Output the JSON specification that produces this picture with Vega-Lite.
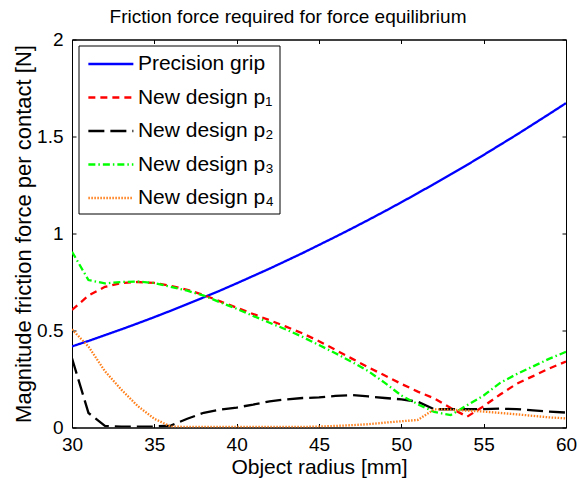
{
  "$schema": "https://vega.github.io/schema/vega-lite/v6.json",
  "width": 494,
  "height": 388,
  "autosize": {"type": "none"},
  "padding": {"left": 72, "top": 39.5, "right": 13, "bottom": 54.5},
  "background": "white",
  "title": {
    "text": "Friction force required for force equilibrium",
    "fontSize": 19,
    "font": "Liberation Sans",
    "fontWeight": "normal",
    "color": "black",
    "baseline": "alphabetic",
    "offset": 17,
    "dx": -31,
    "dy": 28
  },
  "data": {
    "values": [
      {"r": 30, "Precision grip": 0.418, "New design p₁": 0.606, "New design p₂": 0.357, "New design p₃": 0.906, "New design p₄": 0.506},
      {"r": 31, "Precision grip": 0.446, "New design p₁": 0.68, "New design p₂": 0.075, "New design p₃": 0.76, "New design p₄": 0.417},
      {"r": 32, "Precision grip": 0.476, "New design p₁": 0.725, "New design p₂": 0.008, "New design p₃": 0.743, "New design p₄": 0.29},
      {"r": 33, "Precision grip": 0.506, "New design p₁": 0.745, "New design p₂": 0.005, "New design p₃": 0.75, "New design p₄": 0.195},
      {"r": 34, "Precision grip": 0.537, "New design p₁": 0.75, "New design p₂": 0.005, "New design p₃": 0.752, "New design p₄": 0.11},
      {"r": 35, "Precision grip": 0.569, "New design p₁": 0.745, "New design p₂": 0.005, "New design p₃": 0.745, "New design p₄": 0.045},
      {"r": 36, "Precision grip": 0.602, "New design p₁": 0.73, "New design p₂": 0.01, "New design p₃": 0.725, "New design p₄": 0.005},
      {"r": 37, "Precision grip": 0.636, "New design p₁": 0.71, "New design p₂": 0.045, "New design p₃": 0.705, "New design p₄": 0.003},
      {"r": 38, "Precision grip": 0.671, "New design p₁": 0.683, "New design p₂": 0.076, "New design p₃": 0.68, "New design p₄": 0.003},
      {"r": 39, "Precision grip": 0.706, "New design p₁": 0.65, "New design p₂": 0.092, "New design p₃": 0.645, "New design p₄": 0.003},
      {"r": 40, "Precision grip": 0.743, "New design p₁": 0.618, "New design p₂": 0.103, "New design p₃": 0.612, "New design p₄": 0.003},
      {"r": 41, "Precision grip": 0.781, "New design p₁": 0.585, "New design p₂": 0.118, "New design p₃": 0.575, "New design p₄": 0.003},
      {"r": 42, "Precision grip": 0.819, "New design p₁": 0.553, "New design p₂": 0.135, "New design p₃": 0.54, "New design p₄": 0.003},
      {"r": 43, "Precision grip": 0.859, "New design p₁": 0.52, "New design p₂": 0.145, "New design p₃": 0.505, "New design p₄": 0.003},
      {"r": 44, "Precision grip": 0.899, "New design p₁": 0.485, "New design p₂": 0.152, "New design p₃": 0.467, "New design p₄": 0.003},
      {"r": 45, "Precision grip": 0.941, "New design p₁": 0.445, "New design p₂": 0.155, "New design p₃": 0.425, "New design p₄": 0.005},
      {"r": 46, "Precision grip": 0.983, "New design p₁": 0.4, "New design p₂": 0.163, "New design p₃": 0.383, "New design p₄": 0.008},
      {"r": 47, "Precision grip": 1.026, "New design p₁": 0.355, "New design p₂": 0.167, "New design p₃": 0.338, "New design p₄": 0.012},
      {"r": 48, "Precision grip": 1.07, "New design p₁": 0.31, "New design p₂": 0.16, "New design p₃": 0.29, "New design p₄": 0.017},
      {"r": 49, "Precision grip": 1.115, "New design p₁": 0.268, "New design p₂": 0.152, "New design p₃": 0.23, "New design p₄": 0.025},
      {"r": 50, "Precision grip": 1.161, "New design p₁": 0.225, "New design p₂": 0.145, "New design p₃": 0.165, "New design p₄": 0.032},
      {"r": 51, "Precision grip": 1.208, "New design p₁": 0.185, "New design p₂": 0.133, "New design p₃": 0.12, "New design p₄": 0.039},
      {"r": 52, "Precision grip": 1.256, "New design p₁": 0.15, "New design p₂": 0.094, "New design p₃": 0.08, "New design p₄": 0.094},
      {"r": 53, "Precision grip": 1.305, "New design p₁": 0.1, "New design p₂": 0.094, "New design p₃": 0.064, "New design p₄": 0.092},
      {"r": 54, "Precision grip": 1.354, "New design p₁": 0.056, "New design p₂": 0.094, "New design p₃": 0.115, "New design p₄": 0.087},
      {"r": 55, "Precision grip": 1.405, "New design p₁": 0.11, "New design p₂": 0.095, "New design p₃": 0.165, "New design p₄": 0.082},
      {"r": 56, "Precision grip": 1.457, "New design p₁": 0.17, "New design p₂": 0.097, "New design p₃": 0.23, "New design p₄": 0.075},
      {"r": 57, "Precision grip": 1.509, "New design p₁": 0.225, "New design p₂": 0.095, "New design p₃": 0.275, "New design p₄": 0.068},
      {"r": 58, "Precision grip": 1.563, "New design p₁": 0.265, "New design p₂": 0.088, "New design p₃": 0.315, "New design p₄": 0.06},
      {"r": 59, "Precision grip": 1.617, "New design p₁": 0.305, "New design p₂": 0.082, "New design p₃": 0.355, "New design p₄": 0.052},
      {"r": 60, "Precision grip": 1.672, "New design p₁": 0.34, "New design p₂": 0.077, "New design p₃": 0.39, "New design p₄": 0.047}
    ]
  },
  "transform": [
    {"fold": ["Precision grip", "New design p₁", "New design p₂", "New design p₃", "New design p₄"], "as": ["series", "f"]}
  ],
  "layer": [
    {
      "mark": {"type": "line", "strokeWidth": 2.3, "clip": true},
      "encoding": {
        "x": {
          "field": "r", "type": "quantitative",
          "scale": {"domain": [30, 60], "nice": false},
          "axis": {"orient": "bottom", "values": [30, 35, 40, 45, 50, 55, 60], "format": "d", "title": "Object radius [mm]", "tickSize": -4, "labelPadding": 12, "titlePadding": 2, "labelFlush": false}
        },
        "y": {
          "field": "f", "type": "quantitative",
          "scale": {"domain": [0, 2], "nice": false},
          "axis": {"orient": "left", "values": [0, 0.5, 1, 1.5, 2], "format": "~g", "title": "Magnitude friction force per contact [N]", "titleFontSize": 22, "tickSize": -4, "labelPadding": 13, "titlePadding": 1, "labelFlush": false}
        },
        "color": {
          "field": "series", "type": "nominal",
          "scale": {"domain": ["Precision grip", "New design p₁", "New design p₂", "New design p₃", "New design p₄"], "range": ["#0000ff", "#ff0000", "#000000", "#00ff00", "#ff7f1a"]},
          "legend": {"orient": "none", "legendX": 6.5, "legendY": 6, "title": null}
        },
        "strokeDash": {
          "field": "series", "type": "nominal",
          "scale": {"domain": ["Precision grip", "New design p₁", "New design p₂", "New design p₃", "New design p₄"], "range": [[1, 0], [7, 5], [16, 6], [7, 3, 1.5, 3], [1.5, 1.5]]},
          "legend": {"orient": "none", "legendX": 6.5, "legendY": 6, "title": null}
        }
      }
    },
    {
      "mark": {"type": "line", "opacity": 0},
      "encoding": {
        "x": {"field": "r", "type": "quantitative", "axis": {"orient": "top", "values": [30, 35, 40, 45, 50, 55, 60], "labels": false, "title": null, "tickSize": -4}},
        "y": {"field": "f", "type": "quantitative", "axis": {"orient": "right", "values": [0, 0.5, 1, 1.5, 2], "labels": false, "title": null, "tickSize": -4}}
      }
    }
  ],
  "resolve": {"axis": {"x": "independent", "y": "independent"}},
  "config": {
    "view": {"stroke": "black", "strokeWidth": 1},
    "font": "Liberation Sans",
    "axis": {
      "grid": false,
      "domainColor": "black",
      "tickColor": "black",
      "labelColor": "black",
      "titleColor": "black",
      "labelFont": "Liberation Sans",
      "titleFont": "Liberation Sans",
      "labelFontSize": 19,
      "titleFontSize": 21,
      "titleFontWeight": "normal"
    },
    "legend": {
      "strokeColor": "black",
      "fillColor": "white",
      "padding": 5,
      "symbolType": "M-0.72,0H3.03",
      "symbolSize": 576,
      "symbolStrokeWidth": 2.3,
      "labelFont": "Liberation Sans",
      "labelFontSize": 21,
      "labelColor": "black",
      "labelOffset": 27.4,
      "rowPadding": 9.5,
      "labelLimit": 300
    }
  }
}
